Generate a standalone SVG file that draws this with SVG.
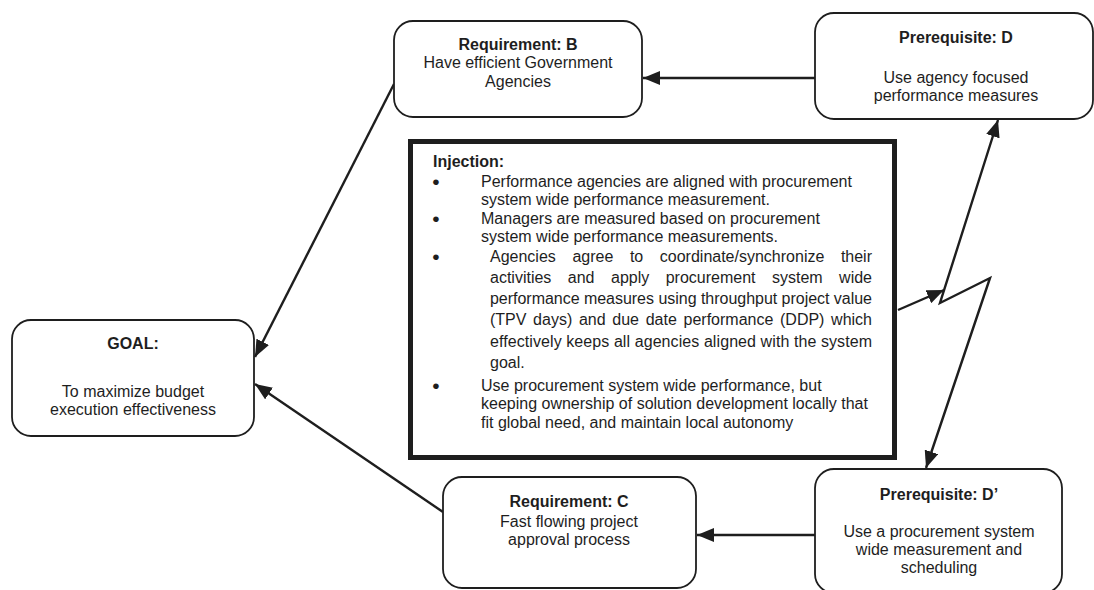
<svg xmlns="http://www.w3.org/2000/svg" width="1094" height="590" viewBox="0 0 1094 590">
  <defs>
    <style>
      .node { fill: #ffffff; stroke: #1e1e1e; stroke-width: 1.8; }
      .inj { fill: #ffffff; stroke: #1e1e1e; stroke-width: 5; }
      text { font-family: "Liberation Sans", Arial, sans-serif; font-size: 16px; fill: #1e1e1e; }
      .title { font-weight: bold; }
      .c { text-anchor: middle; }
      .dot { font-size: 21px; text-anchor: middle; }
      .link { fill: none; stroke: #1e1e1e; stroke-width: 2.4; }
    </style>
    <marker id="head" markerUnits="userSpaceOnUse" markerWidth="18" markerHeight="14" refX="17" refY="7" orient="auto-start-reverse">
      <path d="M0,0 L17,7 L0,14 z" fill="#1e1e1e"/>
    </marker>
  </defs>

  <rect width="1094" height="590" fill="#ffffff"/>

  <!-- connectors -->
  <g id="connectors">
    <line class="link" x1="815" y1="78" x2="643" y2="78" marker-end="url(#head)"/>
    <line class="link" x1="394" y1="84" x2="255" y2="357" marker-end="url(#head)"/>
    <line class="link" x1="443" y1="512" x2="255" y2="384" marker-end="url(#head)"/>
    <line class="link" x1="815" y1="535" x2="697" y2="535" marker-end="url(#head)"/>
    <line class="link" x1="898" y1="310" x2="944" y2="290" marker-end="url(#head)"/>
    <path class="link" d="M998,120 L940,303 L990,278 L926,468" stroke-linejoin="miter" marker-start="url(#head)" marker-end="url(#head)"/>
  </g>

  <!-- goal -->
  <g id="goal">
    <rect class="node" x="12" y="320" width="242" height="116" rx="19"/>
    <text class="title c" x="133" y="349">GOAL:</text>
    <text class="c" x="133" y="397">To maximize budget</text>
    <text class="c" x="133" y="415">execution effectiveness</text>
  </g>

  <!-- requirement B -->
  <g id="requirement-b">
    <rect class="node" x="394" y="21" width="248" height="96" rx="19"/>
    <text class="title c" x="518" y="50">Requirement: B</text>
    <text class="c" x="518" y="68">Have efficient Government</text>
    <text class="c" x="518" y="87">Agencies</text>
  </g>

  <!-- prerequisite D -->
  <g id="prerequisite-d">
    <rect class="node" x="815" y="13" width="278" height="106" rx="19"/>
    <text class="title c" x="956" y="43">Prerequisite: D</text>
    <text class="c" x="956" y="83">Use agency focused</text>
    <text class="c" x="956" y="101">performance measures</text>
  </g>

  <!-- requirement C -->
  <g id="requirement-c">
    <rect class="node" x="443" y="477" width="253" height="111" rx="19"/>
    <text class="title c" x="569" y="507">Requirement: C</text>
    <text class="c" x="569" y="527">Fast flowing project</text>
    <text class="c" x="569" y="545">approval process</text>
  </g>

  <!-- prerequisite D' -->
  <g id="prerequisite-d2">
    <rect class="node" x="815" y="469" width="247" height="124" rx="19"/>
    <text class="title c" x="939" y="500">Prerequisite: D’</text>
    <text class="c" x="939" y="537">Use a procurement system</text>
    <text class="c" x="939" y="555">wide measurement and</text>
    <text class="c" x="939" y="573">scheduling</text>
  </g>

  <!-- injection -->
  <g id="injection">
    <rect class="inj" x="410.5" y="141.5" width="484" height="316"/>
    <text class="title" x="433" y="167">Injection:</text>
    <text class="dot" x="436" y="189">•</text>
    <text x="481" y="187">Performance agencies are aligned with procurement</text>
    <text x="481" y="205">system wide performance measurement.</text>
    <text class="dot" x="436" y="226">•</text>
    <text x="481" y="224">Managers are measured based on procurement</text>
    <text x="481" y="242">system wide performance measurements.</text>
    <text class="dot" x="436" y="264">•</text>
    <!-- justified paragraph: words placed on fixed columns -->
    <text y="262"><tspan x="490">Agencies</tspan><tspan x="572.4">agree</tspan><tspan x="629.9">to</tspan><tspan x="659.8">coordinate/synchronize</tspan><tspan x="872" text-anchor="end">their</tspan></text>
    <text y="283"><tspan x="490">activities</tspan><tspan x="567.8">and</tspan><tspan x="611">apply</tspan><tspan x="665.7">procurement</tspan><tspan x="772">system</tspan><tspan x="872" text-anchor="end">wide</tspan></text>
    <text x="490" y="304" textLength="382" lengthAdjust="spacing">performance measures using throughput project value</text>
    <text y="325"><tspan x="490">(TPV</tspan><tspan x="533.1">days)</tspan><tspan x="578.9">and</tspan><tspan x="612.3">due</tspan><tspan x="645.7">date</tspan><tspan x="683.5">performance</tspan><tspan x="780">(DDP)</tspan><tspan x="872" text-anchor="end">which</tspan></text>
    <text x="490" y="347" textLength="382" lengthAdjust="spacing">effectively keeps all agencies aligned with the system</text>
    <text x="490" y="368">goal.</text>
    <text class="dot" x="436" y="393">•</text>
    <text x="481" y="391">Use procurement system wide performance, but</text>
    <text x="481" y="409">keeping ownership of solution development locally that</text>
    <text x="481" y="428">fit global need, and maintain local autonomy</text>
  </g>
</svg>
